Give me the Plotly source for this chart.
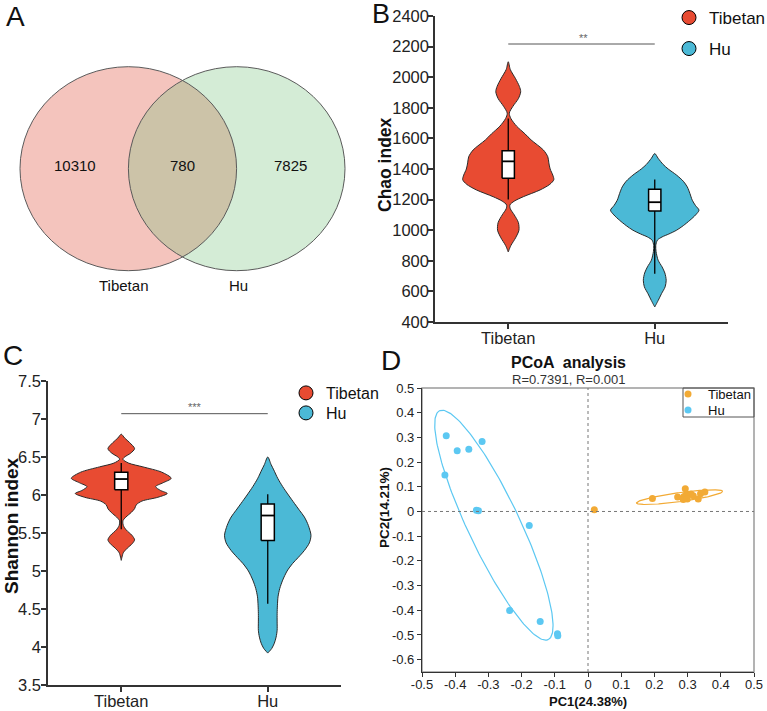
import numpy as np
import plotly.graph_objects as go

W, H = 767, 711
FONT = "Liberation Sans, Arial, sans-serif"

# ---------------- data ----------------
groups = ["Tibetan", "Hu"]
venn_counts = [10310, 780, 7825]          # Tibetan only, shared, Hu only

# Chao index violin density profiles (value, half-width in category units)
chao_tib_y = [2101, 2050, 1990, 1940, 1905, 1860, 1810, 1765, 1730, 1680, 1630, 1590, 1524, 1480, 1440,
              1400, 1360, 1330, 1300, 1263, 1219, 1190, 1165, 1140, 1100, 1050, 1000, 950, 900, 858]
chao_tib_w = [0, 0.014, 0.050, 0.076, 0.085, 0.069, 0.032, 0.007, 0.018, 0.057, 0.114, 0.156, 0.240, 0.270, 0.277,
              0.286, 0.304, 0.311, 0.284, 0.217, 0.103, 0.041, 0.011, 0.014, 0.041, 0.069, 0.073, 0.050, 0.018, 0]
chao_hu_y = [1501, 1470, 1430, 1400, 1360, 1320, 1283, 1240, 1196, 1160, 1131, 1100, 1065, 1030, 1000,
             975, 956, 935, 900, 860, 804, 760, 720, 673, 630, 585, 540, 498]
chao_hu_w = [0, 0.023, 0.057, 0.092, 0.149, 0.195, 0.222, 0.240, 0.256, 0.279, 0.302, 0.279, 0.240, 0.195, 0.149,
             0.096, 0.050, 0.018, 0.007, 0.009, 0.023, 0.050, 0.069, 0.078, 0.071, 0.046, 0.023, 0]
chao_q1 = [1340, 1125]
chao_median = [1450, 1183]
chao_q3 = [1520, 1268]
chao_low = [1200, 716]
chao_high = [1730, 1331]
chao_sig = 2217

# Shannon index violin density profiles
sh_tib_y = [6.80, 6.75, 6.69, 6.61, 6.55, 6.50, 6.47, 6.42, 6.37, 6.30, 6.22, 6.16, 6.11, 6.06, 6.02,
            5.97, 5.92, 5.87, 5.82, 5.77, 5.71, 5.66, 5.60, 5.54, 5.47, 5.41, 5.36, 5.30, 5.24, 5.14]
sh_tib_w = [0, 0.023, 0.057, 0.091, 0.064, 0.023, 0.011, 0.050, 0.148, 0.277, 0.341, 0.284, 0.234, 0.268, 0.314,
            0.250, 0.141, 0.102, 0.091, 0.068, 0.032, 0.011, 0.014, 0.034, 0.073, 0.091, 0.075, 0.041, 0.014, 0]
sh_hu_y = [6.50, 6.40, 6.33, 6.22, 6.11, 6.00, 5.89, 5.80, 5.71, 5.60, 5.47, 5.37, 5.27, 5.18, 5.10,
           5.00, 4.88, 4.77, 4.66, 4.55, 4.44, 4.33, 4.22, 4.13, 4.05, 3.98, 3.92]
sh_hu_w = [0, 0.023, 0.041, 0.068, 0.102, 0.141, 0.182, 0.216, 0.250, 0.277, 0.295, 0.284, 0.250, 0.209, 0.170,
           0.132, 0.102, 0.082, 0.070, 0.066, 0.064, 0.064, 0.064, 0.057, 0.045, 0.027, 0]
sh_q1 = [6.07, 5.40]
sh_median = [6.21, 5.73]
sh_q3 = [6.30, 5.88]
sh_low = [5.55, 4.57]
sh_high = [6.42, 6.01]
sh_sig = 7.07

# PCoA coordinates
tib_pc1 = [0.019, 0.194, 0.270, 0.293, 0.289, 0.297, 0.310, 0.317, 0.287, 0.299, 0.332, 0.339, 0.352]
tib_pc2 = [0.007, 0.053, 0.059, 0.092, 0.061, 0.071, 0.071, 0.064, 0.048, 0.051, 0.051, 0.072, 0.079]
hu_pc1 = [-0.427, -0.394, -0.359, -0.319, -0.431, -0.336, -0.330, -0.177, -0.236, -0.144, -0.092, -0.091]
hu_pc2 = [0.307, 0.246, 0.252, 0.283, 0.148, 0.005, 0.003, -0.057, -0.401, -0.446, -0.495, -0.503]
# confidence ellipses: centre, major half-axis vector, minor half-axis vector
tib_ell_c, tib_ell_u, tib_ell_v = [0.276, 0.058], [0.1298, 0.0236], [-0.0018, 0.0181]
hu_ell_c, hu_ell_u, hu_ell_v = [-0.2835, -0.0555], [0.1635, -0.4635], [0.0709, 0.0449]

d_xticks = [-0.5, -0.4, -0.3, -0.2, -0.1, 0, 0.1, 0.2, 0.3, 0.4, 0.5]
d_yticks = [0.5, 0.4, 0.3, 0.2, 0.1, 0, -0.1, -0.2, -0.3, -0.4, -0.5, -0.6]

# ---------------- style ----------------
RED = "#E84B32"
BLUE = "#4BB9D6"
ORANGE = "#F2AA35"
SKY = "#5CC8F2"


def px(x):
    return x / W


def py(y):
    return 1 - y / H


fig = go.Figure()


def violin(center, ys, ws, color, xa, ya):
    ys = list(ys)
    ws = list(ws)
    xs = [center + w for w in ws] + [center - w for w in ws[::-1]]
    yy = ys + ys[::-1]
    fig.add_trace(go.Scatter(x=xs, y=yy, mode="lines", fill="toself", fillcolor=color,
                             line=dict(color="#2a2a2a", width=1, shape="spline", smoothing=0.8),
                             xaxis=xa, yaxis=ya, showlegend=False, hoverinfo="skip"))


def boxes(q1, med, q3, lo, hi, hw, xa, ya):
    wx, wy, bx, by, mx, my = [], [], [], [], [], []
    for c in range(len(q1)):
        wx += [c, c, None, c, c, None]
        wy += [lo[c], q1[c], None, q3[c], hi[c], None]
        bx += [c - hw, c + hw, c + hw, c - hw, c - hw, None]
        by += [q1[c], q1[c], q3[c], q3[c], q1[c], None]
        mx += [c - hw, c + hw, None]
        my += [med[c], med[c], None]
    fig.add_trace(go.Scatter(x=wx, y=wy, mode="lines", line=dict(color="black", width=1.3),
                             xaxis=xa, yaxis=ya, showlegend=False, hoverinfo="skip"))
    fig.add_trace(go.Scatter(x=bx, y=by, mode="lines", fill="toself", fillcolor="white",
                             line=dict(color="black", width=1.5),
                             xaxis=xa, yaxis=ya, showlegend=False, hoverinfo="skip"))
    fig.add_trace(go.Scatter(x=mx, y=my, mode="lines", line=dict(color="black", width=1.8),
                             xaxis=xa, yaxis=ya, showlegend=False, hoverinfo="skip"))


violin(0, chao_tib_y, chao_tib_w, RED, "x", "y")
violin(1, chao_hu_y, chao_hu_w, BLUE, "x", "y")
boxes(chao_q1, chao_median, chao_q3, chao_low, chao_high, 0.042, "x", "y")

violin(0, sh_tib_y, sh_tib_w, RED, "x2", "y2")
violin(1, sh_hu_y, sh_hu_w, BLUE, "x2", "y2")
boxes(sh_q1, sh_median, sh_q3, sh_low, sh_high, 0.045, "x2", "y2")

# legend-only entries for B and C
for name, col, lg in [("Tibetan", RED, "legend"), ("Hu", BLUE, "legend2"),
                      ("Tibetan", RED, "legend3"), ("Hu", BLUE, "legend4")]:
    xa, ya = ("x", "y") if lg in ("legend", "legend2") else ("x2", "y2")
    fig.add_trace(go.Scatter(x=[None], y=[None], mode="markers", name=name,
                             marker=dict(size=14, color=col, line=dict(color="black", width=1)),
                             xaxis=xa, yaxis=ya, legend=lg, showlegend=True))


def ellipse(c, u, v, color):
    t = np.linspace(0, 2 * np.pi, 200)
    ex = c[0] + u[0] * np.cos(t) + v[0] * np.sin(t)
    ey = c[1] + u[1] * np.cos(t) + v[1] * np.sin(t)
    fig.add_trace(go.Scatter(x=ex, y=ey, mode="lines", line=dict(color=color, width=1.2),
                             xaxis="x3", yaxis="y3", showlegend=False, hoverinfo="skip"))


ellipse(hu_ell_c, hu_ell_u, hu_ell_v, SKY)
ellipse(tib_ell_c, tib_ell_u, tib_ell_v, ORANGE)
fig.add_trace(go.Scatter(x=tib_pc1, y=tib_pc2, mode="markers", name="Tibetan",
                         marker=dict(size=7, color=ORANGE), xaxis="x3", yaxis="y3", legend="legend5"))
fig.add_trace(go.Scatter(x=hu_pc1, y=hu_pc2, mode="markers", name="Hu",
                         marker=dict(size=7, color=SKY), xaxis="x3", yaxis="y3", legend="legend6"))

# ---------------- axes ----------------
axis_common = dict(showline=True, linecolor="#333333", linewidth=1.5, ticks="outside", ticklen=5,
                   tickcolor="#333333", tickwidth=1.5, showgrid=False, zeroline=False,
                   tickfont=dict(family=FONT, size=16.5, color="#222"))
axis_d = dict(showline=True, linecolor="#333", linewidth=1.2, ticks="outside", ticklen=4,
              tickcolor="#333", showgrid=False, zeroline=False,
              tickfont=dict(family=FONT, size=13, color="#222"))

layout = dict(
    width=W, height=H, margin=dict(l=0, r=0, t=0, b=0, autoexpand=False),
    paper_bgcolor="white", plot_bgcolor="rgba(0,0,0,0)",
    font=dict(family=FONT, color="#222"),
    xaxis=dict(domain=[px(435), px(728)], range=[-0.5, 1.5], tickvals=[0, 1], ticktext=groups,
               anchor="y", ticklabelstandoff=-5, **axis_common),
    yaxis=dict(domain=[py(322), py(16)], range=[400, 2400], dtick=200, anchor="x",
               ticklabelstandoff=-4, **axis_common),
    xaxis2=dict(domain=[px(48), px(341)], range=[-0.5, 1.5], tickvals=[0, 1], ticktext=groups,
                anchor="y2", ticklabelstandoff=-5, **axis_common),
    yaxis2=dict(domain=[py(685), py(381)], range=[3.5, 7.5], dtick=0.5, anchor="x2",
                ticklabelstandoff=-3, **axis_common),
    xaxis3=dict(domain=[px(422), px(754)], range=[-0.5, 0.5], tickvals=d_xticks,
                ticktext=[("%g" % v) for v in d_xticks], anchor="y3", ticklabelstandoff=-4, **axis_d),
    yaxis3=dict(domain=[py(672), py(388)], range=[-0.65, 0.5], tickvals=d_yticks,
                ticktext=[("%g" % v) for v in d_yticks], anchor="x3", **axis_d),
    xaxis4=dict(domain=[0, px(370)], range=[0, 370], visible=False, anchor="y4"),
    yaxis4=dict(domain=[py(330), 1], range=[330, 0], visible=False, anchor="x4"),
)

leg = dict(bgcolor="rgba(0,0,0,0)", borderwidth=0, xanchor="left", yanchor="middle",
           itemsizing="trace", font=dict(family=FONT, size=17, color="#111"))
layout["legend"] = dict(x=px(669), y=py(18), **leg)
layout["legend2"] = dict(x=px(669), y=py(49), **leg)
leg_c = dict(leg)
leg_c["font"] = dict(family=FONT, size=16, color="#111")
layout["legend3"] = dict(x=px(286), y=py(393), **leg_c)
layout["legend4"] = dict(x=px(286), y=py(413), **leg_c)
leg_d = dict(leg)
leg_d["font"] = dict(family=FONT, size=13, color="#111")
layout["legend5"] = dict(x=px(668), y=py(394), **leg_d)
layout["legend6"] = dict(x=px(668), y=py(410), **leg_d)
fig.update_layout(**layout)

# ---------------- shapes ----------------
shapes = []
# Venn circles
shapes.append(dict(type="circle", xref="x4", yref="y4", x0=20, x1=236.6, y0=66.7, y1=270.7,
                   fillcolor="rgba(218,58,38,0.3)", line=dict(width=0), layer="below"))
shapes.append(dict(type="circle", xref="x4", yref="y4", x0=128.4, x1=345, y0=66.7, y1=270.7,
                   fillcolor="rgba(112,192,118,0.3)", line=dict(width=0), layer="below"))
for x0 in (20, 128.4):
    shapes.append(dict(type="circle", xref="x4", yref="y4", x0=x0, x1=x0 + 216.6, y0=66.7, y1=270.7,
                       line=dict(color="#5a5a5a", width=1)))
# significance bars
shapes.append(dict(type="line", xref="x", yref="y", x0=0, x1=1, y0=chao_sig, y1=chao_sig,
                   line=dict(color="#555", width=1)))
shapes.append(dict(type="line", xref="x2", yref="y2", x0=0, x1=1, y0=sh_sig, y1=sh_sig,
                   line=dict(color="#555", width=1)))
# PCoA frame and reference lines
shapes.append(dict(type="rect", xref="x3 domain", yref="y3 domain", x0=0, x1=1, y0=0, y1=1,
                   line=dict(color="#9a9a9a", width=1.5), layer="below"))
shapes.append(dict(type="line", xref="x3", yref="y3 domain", x0=0, x1=0, y0=0, y1=1,
                   line=dict(color="#777", width=1, dash="dot")))
shapes.append(dict(type="line", xref="x3 domain", yref="y3", x0=0, x1=1, y0=0, y1=0,
                   line=dict(color="#777", width=1, dash="dot")))
# PCoA legend box
shapes.append(dict(type="rect", xref="paper", yref="paper", x0=px(683), x1=px(754), y0=py(417), y1=py(388),
                   line=dict(color="#555", width=1)))
fig.update_layout(shapes=shapes)

# ---------------- annotations ----------------
ann = []


def text(x, y, s, size, bold=False, angle=0, color="#111", xanchor="center"):
    ann.append(dict(x=px(x), y=py(y), xref="paper", yref="paper", text=("<b>%s</b>" % s) if bold else s,
                    showarrow=False, textangle=angle, xanchor=xanchor, yanchor="middle",
                    font=dict(family=FONT, size=size, color=color)))


text(15, 16, "A", 28)
text(381, 14, "B", 27)
text(13, 355, "C", 28)
text(391, 360, "D", 28)
# Venn labels
text(75, 165, str(venn_counts[0]), 15)
text(182, 165, str(venn_counts[1]), 15)
text(290, 165, str(venn_counts[2]), 15)
text(123, 285, groups[0], 15)
text(238, 285, groups[1], 15)
# B/C labels
text(385, 165, "Chao index", 17.5, bold=True, angle=-90)
text(11, 526, "Shannon index", 19, bold=True, angle=-90)
text(583, 38, "**", 11, color="#666")
text(195, 407, "***", 11, color="#666")
# D labels
text(568, 362, "PCoA  analysis", 16, bold=True)
text(568, 379, "R=0.7391, R=0.001", 13, color="#333")
text(588, 701, "PC1(24.38%)", 13, bold=True)
text(384, 508, "PC2(14.21%)", 13.5, bold=True, angle=-90)
fig.update_layout(annotations=ann)

fig.write_html("out.html")
